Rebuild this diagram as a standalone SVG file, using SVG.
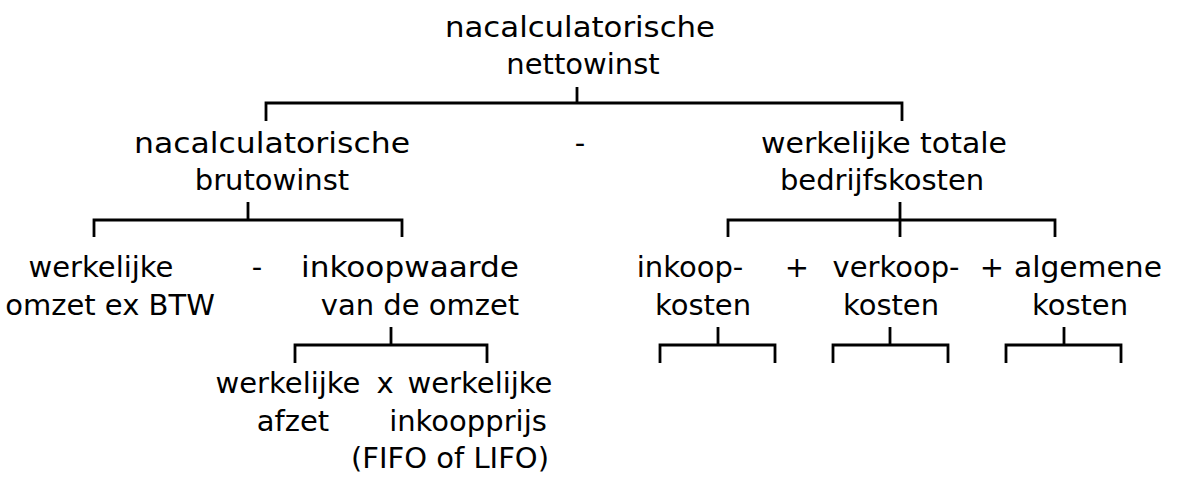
<svg xmlns="http://www.w3.org/2000/svg" width="1192" height="486" viewBox="0 0 1192 486">
  <style>
    .t { font-family: "DejaVu Sans", "Liberation Sans", sans-serif; font-size: 29px; fill: #000; text-anchor: middle; }
    .c { fill: none; stroke: #000; stroke-width: 2.8; stroke-linecap: butt; stroke-linejoin: miter; }
  </style>
  <rect width="1192" height="486" fill="#fff"/>

  <!-- connectors: brackets joining each term to its parts -->
  <g id="connectors">
    <path class="c" d="M577,87 V103 M266,121 V103 H902 V121"/>
    <path class="c" d="M248,202 V220 M94,237 V220 H402 V237"/>
    <path class="c" d="M900,202 V237 M728,237 V220 H1055 V237"/>
    <path class="c" d="M391,327 V345 M295,363 V345 H487 V363"/>
    <path class="c" d="M718,327 V345 M660,363 V345 H775 V363"/>
    <path class="c" d="M890,327 V345 M833,363 V345 H948 V363"/>
    <path class="c" d="M1064,327 V345 M1006,363 V345 H1121 V363"/>
  </g>

  <g id="netto">
    <text class="t" x="580" y="37" textLength="270" lengthAdjust="spacingAndGlyphs">nacalculatorische</text>
    <text class="t" x="583" y="74">nettowinst</text>
  </g>

  <g id="bruto">
    <text class="t" x="272" y="153" textLength="276" lengthAdjust="spacingAndGlyphs">nacalculatorische</text>
    <text class="t" x="272" y="190">brutowinst</text>
  </g>
  <text id="op-min1" class="t" x="580" y="153">-</text>
  <g id="bedrijfskosten">
    <text class="t" x="884" y="153" textLength="246" lengthAdjust="spacingAndGlyphs">werkelijke totale</text>
    <text class="t" x="882" y="190">bedrijfskosten</text>
  </g>

  <g id="omzet">
    <text class="t" x="101" y="277">werkelijke</text>
    <text class="t" x="110" y="315">omzet ex BTW</text>
  </g>
  <text id="op-min2" class="t" x="257" y="277">-</text>
  <g id="inkoopwaarde">
    <text class="t" x="410" y="277" textLength="218" lengthAdjust="spacingAndGlyphs">inkoopwaarde</text>
    <text class="t" x="420" y="315">van de omzet</text>
  </g>

  <g id="inkoopkosten">
    <text class="t" x="690" y="277">inkoop-</text>
    <text class="t" x="703" y="315">kosten</text>
  </g>
  <text id="op-plus1" class="t" x="797" y="277">+</text>
  <g id="verkoopkosten">
    <text class="t" x="896" y="277">verkoop-</text>
    <text class="t" x="891" y="315">kosten</text>
  </g>
  <text id="op-plus2" class="t" x="992" y="277">+</text>
  <g id="algemenekosten">
    <text class="t" x="1088" y="277" textLength="148" lengthAdjust="spacingAndGlyphs">algemene</text>
    <text class="t" x="1080" y="315">kosten</text>
  </g>

  <g id="afzet">
    <text class="t" x="288" y="393">werkelijke</text>
    <text class="t" x="293" y="431">afzet</text>
  </g>
  <text id="op-maal" class="t" x="385" y="393">x</text>
  <g id="inkoopprijs">
    <text class="t" x="480" y="393">werkelijke</text>
    <text class="t" x="468" y="431">inkoopprijs</text>
    <text class="t" x="450" y="468">(FIFO of LIFO)</text>
  </g>
</svg>
